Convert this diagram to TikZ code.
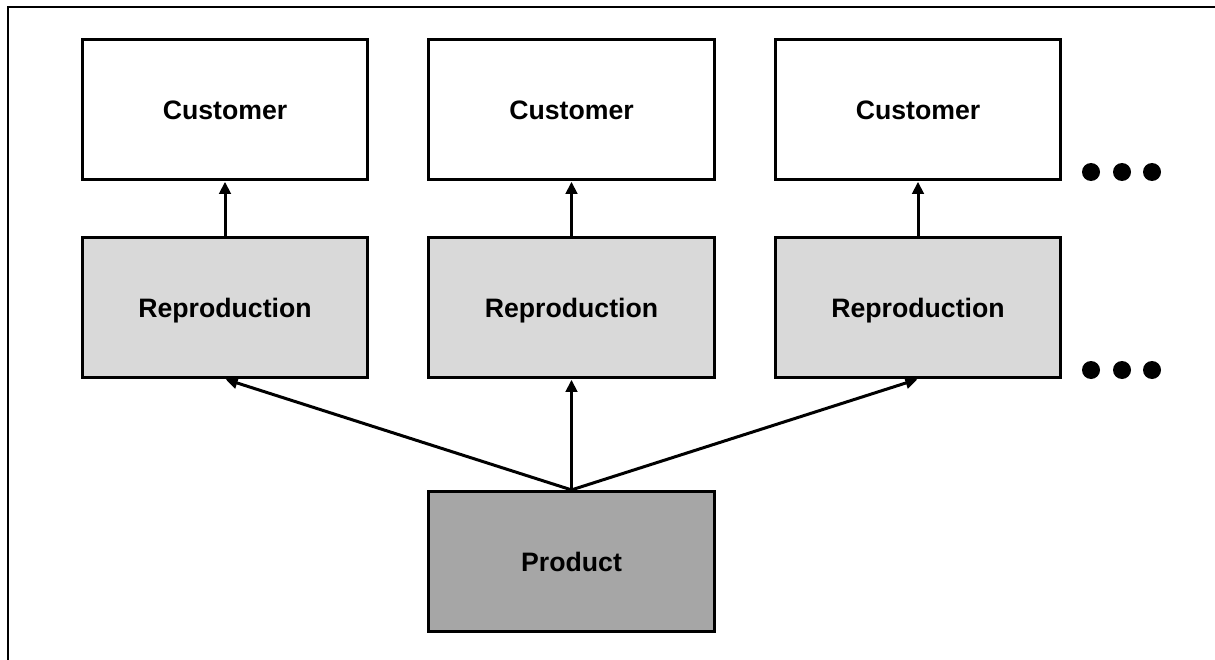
\documentclass[tikz,border=0pt]{standalone}
\usepackage{fontspec}
\setmainfont{Liberation Sans}
\usetikzlibrary{arrows.meta}
\definecolor{reprogray}{HTML}{D9D9D9}
\definecolor{prodgray}{HTML}{A6A6A6}
\tikzset{
BOX/.style={draw=black,line width=2.4pt,minimum width=214pt,minimum height=105pt,inner sep=0pt,text height=14.3pt,text depth=0pt,font=\bfseries\fontsize{20}{24}\selectfont,fill=#1},
BOX/.default=white,
LINK/.style={line width=2.25pt,-{Triangle[length=9pt,width=8.5pt]},shorten >=0.5pt},
DOT/.style={fill=black},
}
\begin{document}
\begin{tikzpicture}
[x=0.75pt, y=0.75pt]
	\useasboundingbox (0,0) rectangle (1215,-660);
	\draw[line width=1.2pt] (8,-660) -- (8,-7) -- (1215,-7);
	\node[BOX] (cust1) at (225,-109.5) {Customer};
	\node[BOX] (cust2) at (571.5,-109.5) {Customer};
	\node[BOX] (cust3) at (918,-109.5) {Customer};
	\node[BOX=reprogray] (repr1) at (225,-307.5) {Reproduction};
	\node[BOX=reprogray] (repr2) at (571.5,-307.5) {Reproduction};
	\node[BOX=reprogray] (repr3) at (918,-307.5) {Reproduction};
	\node[BOX=prodgray] (prod) at (571.5,-561.5) {Product};
	\draw[LINK] (repr1) -- (cust1);
	\draw[LINK] (repr2) -- (cust2);
	\draw[LINK] (repr3) -- (cust3);
	\draw[LINK] (prod.north) -- (repr1.south);
	\draw[LINK] (prod.north) -- (repr2.south);
	\draw[LINK] (prod.north) -- (repr3.south);
	\foreach \x in {1091,1122,1152} {
		\fill[DOT] (\x,-172) circle (9);
		\fill[DOT] (\x,-370) circle (9);
	}
\end{tikzpicture}
\end{document}
